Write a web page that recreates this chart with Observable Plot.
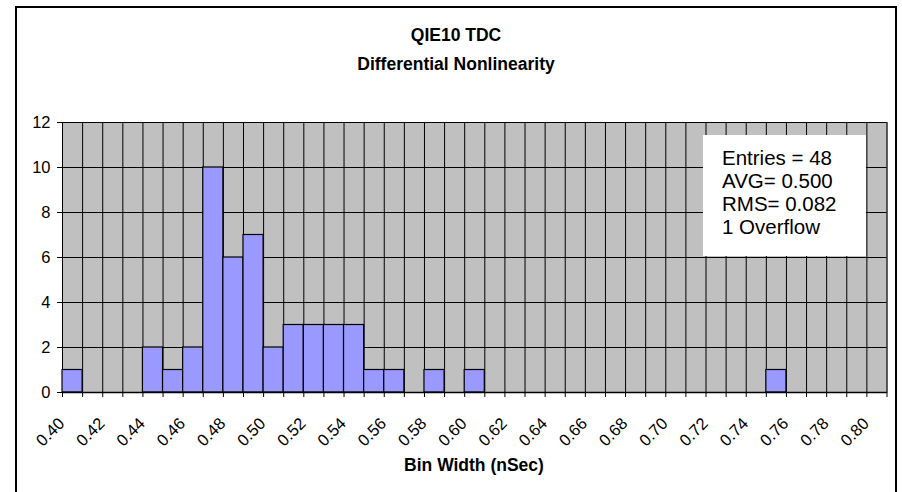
<!DOCTYPE html>
<html>
<head>
<meta charset="utf-8">
<script src="https://cdn.jsdelivr.net/npm/d3@7"></script>
<script src="https://cdn.jsdelivr.net/npm/@observablehq/plot@0.6"></script>
<style>
  html, body { margin: 0; padding: 0; background: #fff; }
  #chart { position: relative; width: 902px; height: 492px; overflow: hidden; font-family: "Liberation Sans", Arial, sans-serif; color: #000; }
  #chart svg { position: absolute; left: 0; top: 0; }
  .frame { position: absolute; left: 15px; top: 6px; width: 878px; height: 520px; border: 2px solid #000; }
  .title { position: absolute; left: 17px; width: 878px; text-align: center; font-weight: bold; font-size: 17.5px; }
  .axis-title { position: absolute; left: 62px; width: 824px; text-align: center; font-weight: bold; font-size: 17.5px; top: 455px; }
  .stats { position: absolute; left: 703px; top: 135px; width: 144px; height: 109px; background: #fff; padding: 12px 0 0 19px; font-size: 20.5px; line-height: 22.9px; }
</style>
</head>
<body>
<div id="chart">
  <div class="frame"></div>
</div>
<script>
// Lower edge of each 0.01 ns bin
const binLow = [0.40, 0.41, 0.42, 0.43, 0.44, 0.45, 0.46, 0.47, 0.48, 0.49,
                0.50, 0.51, 0.52, 0.53, 0.54, 0.55, 0.56, 0.57, 0.58, 0.59,
                0.60, 0.61, 0.62, 0.63, 0.64, 0.65, 0.66, 0.67, 0.68, 0.69,
                0.70, 0.71, 0.72, 0.73, 0.74, 0.75, 0.76, 0.77, 0.78, 0.79, 0.80];
// Entries per bin
const counts = [1, 0, 0, 0, 2, 1, 2, 10, 6, 7,
                2, 3, 3, 3, 3, 1, 1, 0, 1, 0,
                1, 0, 0, 0, 0, 0, 0, 0, 0, 0,
                0, 0, 0, 0, 0, 1, 0, 0, 0, 0, 0];
const binWidth = 0.01;
// Axis tick labels
const xTickValues = [0.40, 0.42, 0.44, 0.46, 0.48, 0.50, 0.52, 0.54, 0.56, 0.58, 0.60,
                     0.62, 0.64, 0.66, 0.68, 0.70, 0.72, 0.74, 0.76, 0.78, 0.80];
const xTickLabels = ["0.40", "0.42", "0.44", "0.46", "0.48", "0.50", "0.52", "0.54", "0.56", "0.58", "0.60",
                     "0.62", "0.64", "0.66", "0.68", "0.70", "0.72", "0.74", "0.76", "0.78", "0.80"];
const yTicks = [0, 2, 4, 6, 8, 10, 12];
// Summary statistics box
const statsLines = ["Entries = 48", "AVG= 0.500", "RMS= 0.082", "1 Overflow"];
const titleLines = ["QIE10 TDC", "Differential Nonlinearity"];
const xLabel = "Bin Width (nSec)";

const rows = binLow.map((lo, i) => ({lo, hi: lo + binWidth, count: counts[i]}));
const edges = binLow.concat([binLow[binLow.length - 1] + binWidth]);

const svg = Plot.plot({
  width: 902,
  height: 492,
  marginLeft: 62,
  marginRight: 15.5,
  marginTop: 122,
  marginBottom: 100,
  x: {domain: [edges[0], edges[edges.length - 1]]},
  y: {domain: [0, 12]},
  style: {fontFamily: "'Liberation Sans', Arial, sans-serif", fontSize: "16px", color: "#000", background: "transparent", overflow: "visible"},
  marks: [
    Plot.frame({fill: "#C0C0C0", stroke: "#808080"}),
    Plot.gridX(edges, {stroke: "#000", strokeOpacity: 1}),
    Plot.gridY(yTicks, {stroke: "#000", strokeOpacity: 1}),
    Plot.rectY(rows.filter(d => d.count > 0), {x1: "lo", x2: "hi", y: "count", fill: "#9999FF", stroke: "#000", strokeWidth: 1.2, inset: 0}),
    Plot.ruleY([0], {stroke: "#000", strokeWidth: 1.5}),
    Plot.axisY(yTicks, {tickSize: 5, tickPadding: 7, fontSize: 16.5, label: null, tickFormat: d => String(d)}),
    Plot.axisX(edges, {tickSize: 5, label: null, tickFormat: () => ""}),
    Plot.text(xTickValues, {
      x: d => d,
      frameAnchor: "bottom",
      text: (d, i) => xTickLabels[i],
      rotate: -45,
      textAnchor: "end",
      lineAnchor: "bottom",
      dx: 3,
      dy: 32,
      fontSize: 16.5
    })
  ]
});

const chart = document.getElementById("chart");
chart.appendChild(svg);

const tops = [25, 54];
titleLines.forEach((t, i) => {
  const el = document.createElement("div");
  el.className = "title";
  el.style.top = tops[i] + "px";
  el.textContent = t;
  chart.appendChild(el);
});

const xl = document.createElement("div");
xl.className = "axis-title";
xl.textContent = xLabel;
chart.appendChild(xl);

const box = document.createElement("div");
box.className = "stats";
box.innerHTML = statsLines.map(s => `<div>${s}</div>`).join("");
chart.appendChild(box);
</script>
</body>
</html>
